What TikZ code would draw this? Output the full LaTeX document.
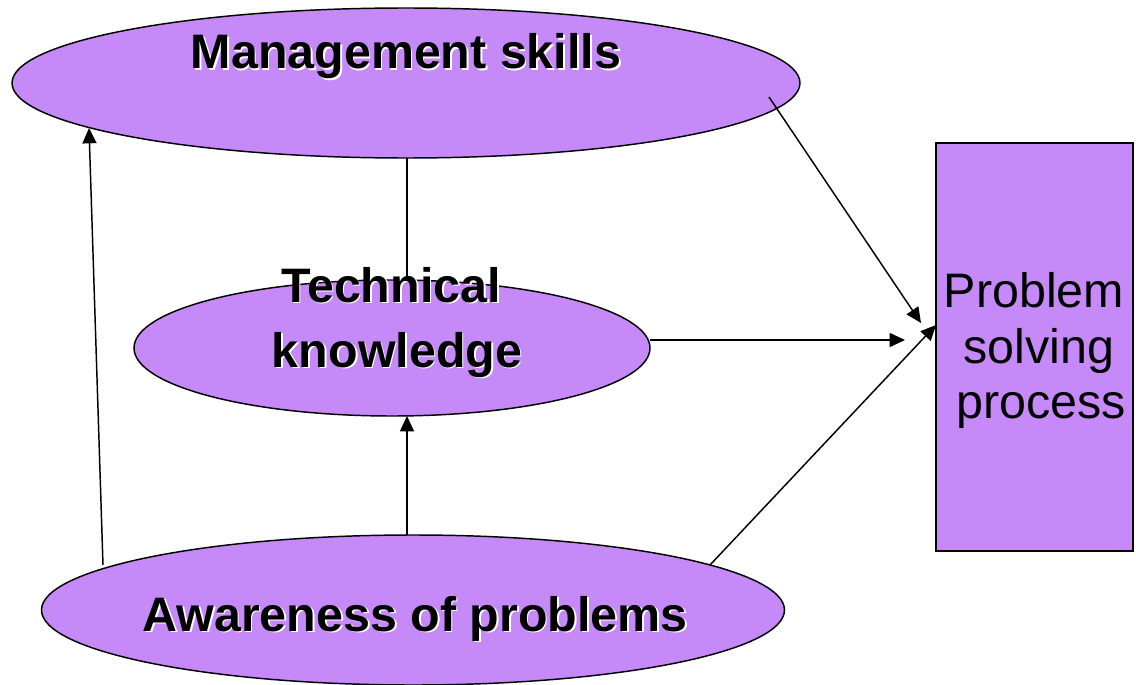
\documentclass[tikz,border=0pt]{standalone}
\usepackage{fontspec}
\setmainfont{Liberation Sans}
\usetikzlibrary{arrows.meta,calc,shapes.geometric}
\definecolor{vio}{HTML}{C68AF8}
\tikzset{
  ell/.style={ellipse, draw=black, fill=vio, line width=1.1pt, inner sep=0pt},
  box/.style={rectangle, draw=black, fill=vio, line width=1.1pt, inner sep=0pt},
  lbl/.style={font=\fontsize{36.3}{42}\selectfont\bfseries, anchor=base, inner sep=0pt},
  plbl/.style={font=\fontsize{36.3}{42}\selectfont, anchor=base, inner sep=0pt},
  conn/.style={line width=1.1pt, draw=black},
  arr/.style={conn, -{Triangle[length=11.5pt,width=10.5pt]}}
}
\newcommand\shadowlbl[3]{%
  \node[lbl,text=white] (#1s) at ($(#2)+(1.8,1.8)$) {#3};
  \node[lbl] (#1) at (#2) {#3};}
\begin{document}
\begin{tikzpicture}[x=0.75pt,y=-0.75pt]
\useasboundingbox (0,0) rectangle (1136,685);
\begin{scope}
\clip (0,0) rectangle (1136,685);
\node[ell, minimum width=591pt, minimum height=112.5pt] (mgmt) at (406,83) {};
\node[ell, minimum width=557.25pt, minimum height=112.5pt] (aware) at (413,610) {};
\end{scope}
\coordinate (mt1) at (407,158);
\coordinate (mt2) at (407,283);
\draw[conn] (mt1) -- (mt2);
\node[ell, minimum width=387pt, minimum height=102pt] (tech) at (392,348) {};
\node[box, minimum width=147.75pt, minimum height=306pt] (psp) at (1034.5,347) {};
% connector endpoints
\coordinate (m1) at (769,97);
\coordinate (p1) at (921,323);
\coordinate (t1) at (650,340);
\coordinate (p2) at (905,340);
\coordinate (a1) at (710,565);
\coordinate (p3) at (936,325);
\coordinate (a2) at (103,565);
\coordinate (m2) at (89,128);
\coordinate (a3) at (407,535);
\coordinate (t2) at (407,416);
\draw[arr] (m1) -- (p1);
\draw[arr] (t1) -- (p2);
\draw[arr] (a1) -- (p3);
\draw[arr] (a2) -- (m2);
\draw[arr] (a3) -- (t2);
% labels
\coordinate (lm) at (406,69);
\coordinate (lt) at (391,302);
\coordinate (lk) at (397,367);
\coordinate (la) at (415,631);
\shadowlbl{mgmtl}{lm}{Management skills}
\shadowlbl{techl}{lt}{Technical}
\shadowlbl{knowl}{lk}{knowledge}
\shadowlbl{awarel}{la}{Awareness of problems}
\node[plbl] (ps1) at (1034,307) {Problem};
\node[plbl] (ps2) at (1039,363) {solving};
\node[plbl] (ps3) at (1041,418) {process};
\end{tikzpicture}
\end{document}
